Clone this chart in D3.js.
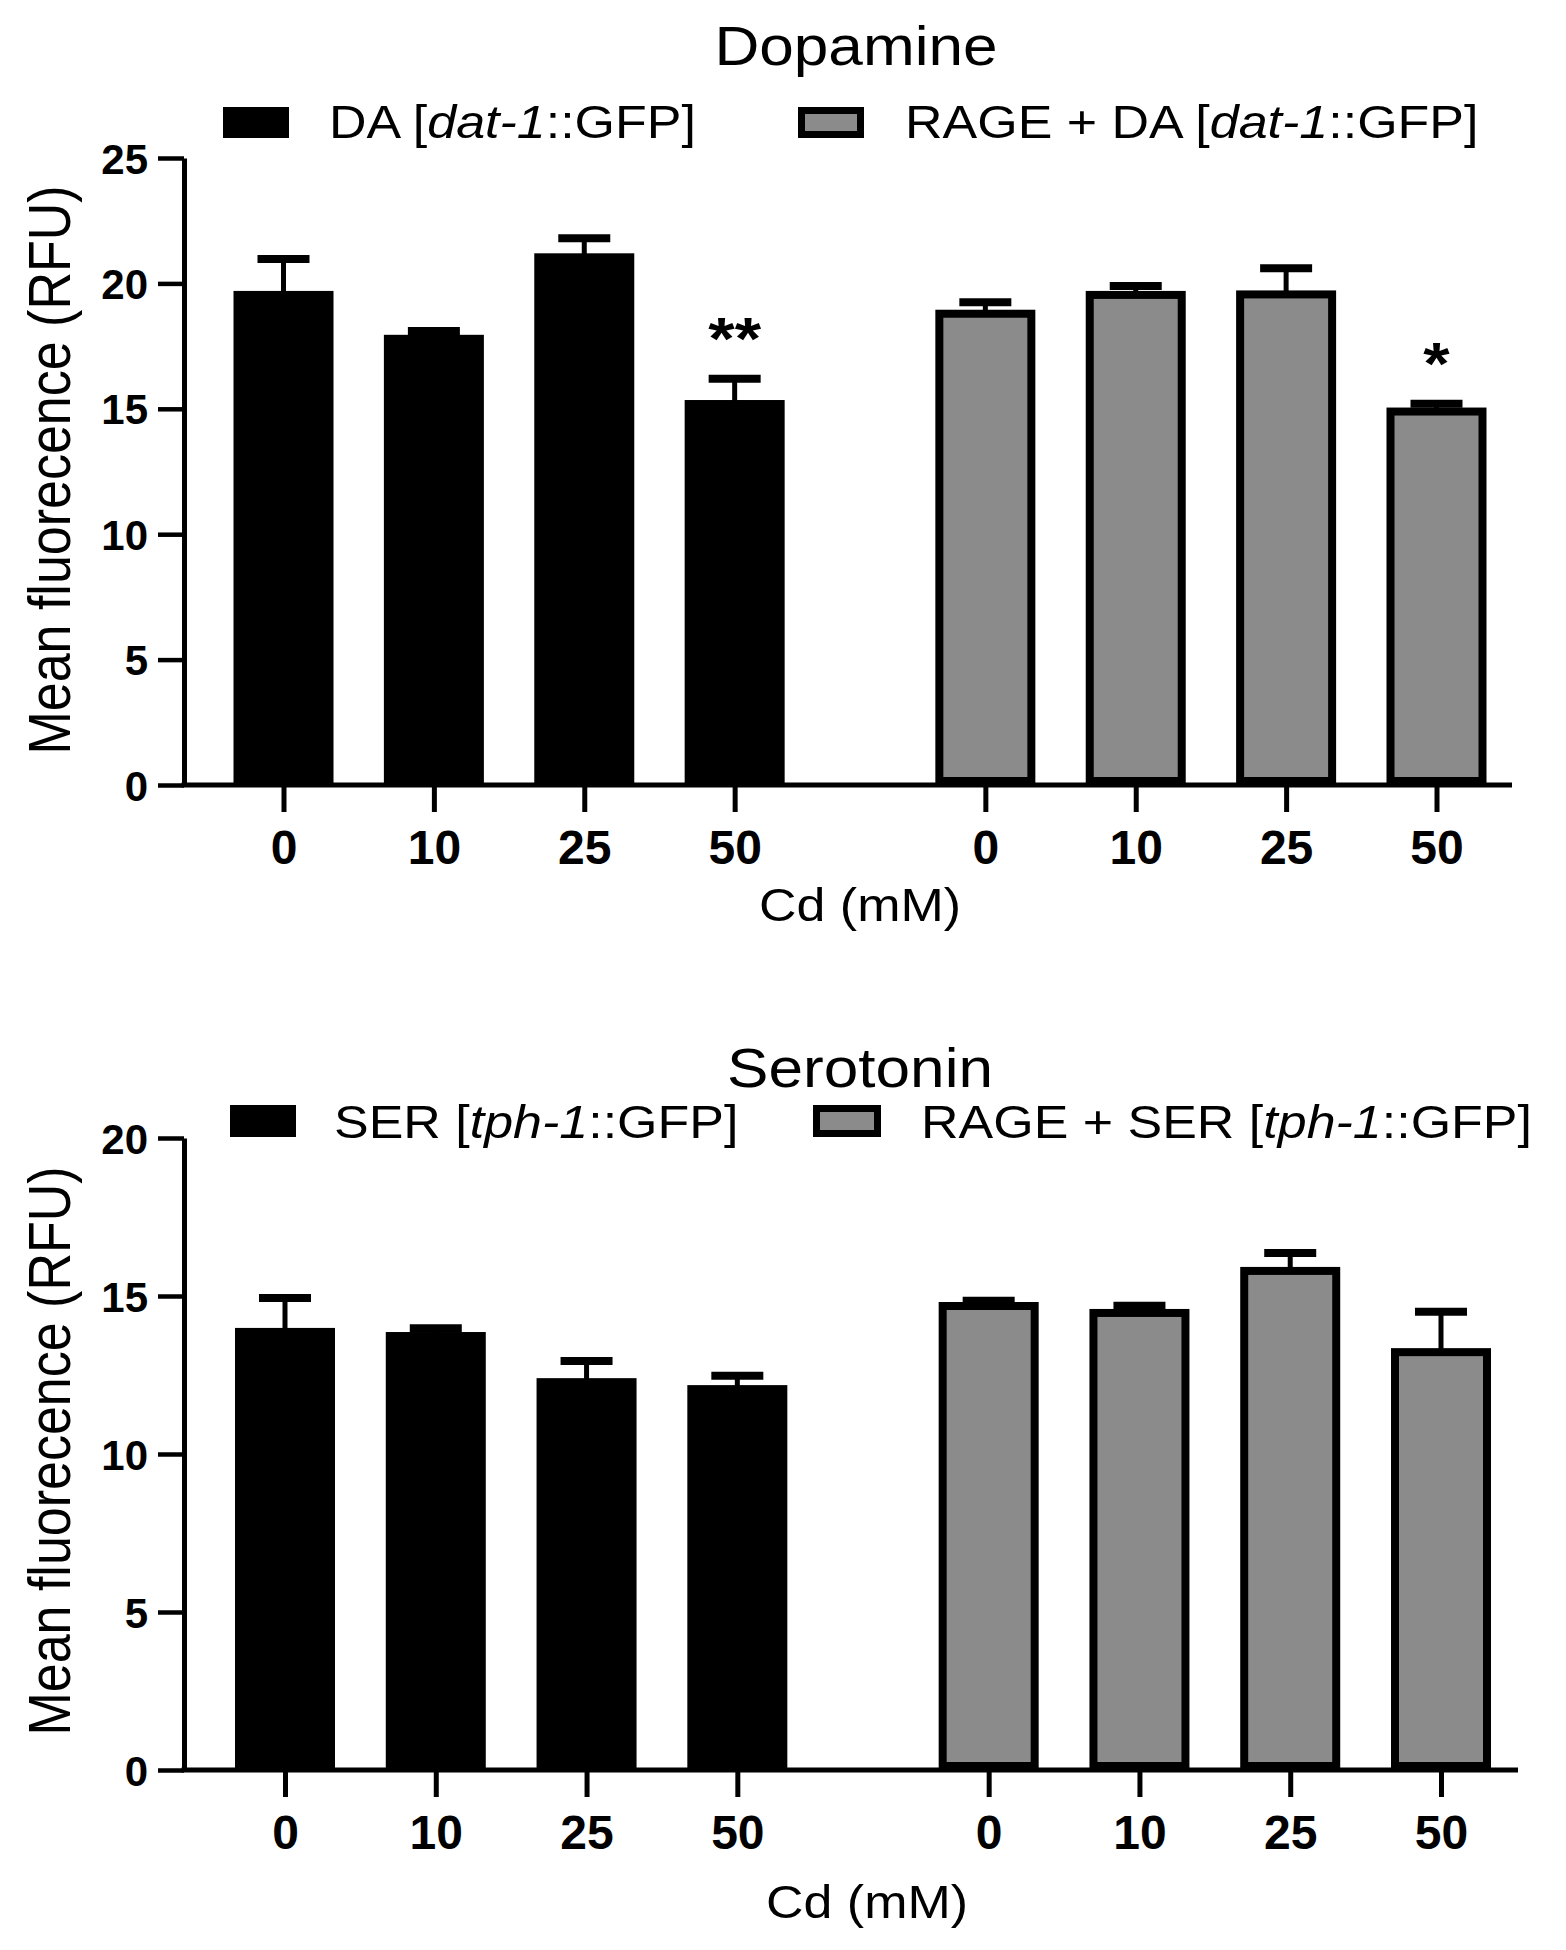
<!DOCTYPE html>
<html><head><meta charset="utf-8">
<script src="https://cdn.jsdelivr.net/npm/d3@7"></script>
<style>
body{margin:0;background:#fff}
svg{display:block}
text{font-family:"Liberation Sans",Arial,Helvetica,sans-serif;fill:#000}
</style>
</head><body>
<svg id="chart" width="1566" height="1950"></svg>
<script>
// ---------- data ----------
const doses = ["0", "10", "25", "50"];
const xAxisTitle = "Cd (mM)";
const yAxisTitle = "Mean fluorecence (RFU)";

const daTitle = "Dopamine";
const daMean = [19.7, 17.95, 21.2, 15.35];
const daSEM = [1.27, 0.15, 0.6, 0.85];
const rageDaMean = [18.95, 19.7, 19.72, 15.05];
const rageDaSEM = [0.3, 0.2, 0.88, 0.15];
const daStars = ["", "", "", "**"];
const rageDaStars = ["", "", "", "*"];
const daTicks = [0, 5, 10, 15, 20, 25];

const serTitle = "Serotonin";
const serMean = [13.99, 13.86, 12.4, 12.18];
const serSEM = [0.95, 0.12, 0.54, 0.3];
const rageSerMean = [14.81, 14.59, 15.92, 13.35];
const rageSerSEM = [0.04, 0.1, 0.44, 1.15];
const serStars = ["", "", "", ""];
const rageSerStars = ["", "", "", ""];
const serTicks = [0, 5, 10, 15, 20];

const legendDa = [
  [{t: "DA ["}, {t: "dat-1", i: true}, {t: "::GFP]"}],
  [{t: "RAGE + DA ["}, {t: "dat-1", i: true}, {t: "::GFP]"}]
];
const legendSer = [
  [{t: "SER ["}, {t: "tph-1", i: true}, {t: "::GFP]"}],
  [{t: "RAGE + SER ["}, {t: "tph-1", i: true}, {t: "::GFP]"}]
];

// ---------- layout ----------
const GRAY = "#8b8b8b";
const SX = 1.13;     // horizontal stretch of the original artwork text
const svg = d3.select("#chart");

const panels = [
  {title: daTitle, ticks: daTicks, ymax: 25, yTop: 158, yZero: 785, x0: 283.5, x1: 1436.5, axisEnd: 1512,
   series: [{mean: daMean, sem: daSEM, stars: daStars, fill: "#000", stroke: false},
            {mean: rageDaMean, sem: rageDaSEM, stars: rageDaStars, fill: GRAY, stroke: true}],
   legend: legendDa, titleX: 856, titleY: 65,
   leg: [{rx: 223, ry: 107, rw: 66, rh: 31, tx: 329, ty: 138}, {rx: 798, ry: 107, rw: 66, rh: 31, tx: 905, ty: 138}],
   ytitleY: 470, xTitleX: 860, xTitleY: 921},
  {title: serTitle, ticks: serTicks, ymax: 20, yTop: 1138, yZero: 1770, x0: 285, x1: 1441, axisEnd: 1518,
   series: [{mean: serMean, sem: serSEM, stars: serStars, fill: "#000", stroke: false},
            {mean: rageSerMean, sem: rageSerSEM, stars: rageSerStars, fill: GRAY, stroke: true}],
   legend: legendSer, titleX: 860, titleY: 1087,
   leg: [{rx: 230, ry: 1105, rw: 66, rh: 32, tx: 334, ty: 1138}, {rx: 813, ry: 1105, rw: 68, rh: 32, tx: 921, ty: 1138}],
   ytitleY: 1451, xTitleX: 867, xTitleY: 1918}
];

const AXIS_X = 184;
const GAP = 0.667;
const BW = 100;
const SW = 8;

function stretchedText(parent, str, x, y, size, anchor) {
  return parent.append("text")
    .attr("transform", `translate(${x},${y}) scale(${SX},1)`)
    .attr("text-anchor", anchor || "start")
    .style("font-size", size + "px")
    .text(str);
}

panels.forEach(p => {
  const g = svg.append("g");
  const y = d3.scaleLinear().domain([0, p.ymax]).range([p.yZero, p.yTop]);
  const slots = [0, 1, 2, 3, 4 + GAP, 5 + GAP, 6 + GAP, 7 + GAP];
  const x = d3.scaleLinear().domain([0, 7 + GAP]).range([p.x0, p.x1]);

  // title
  stretchedText(g, p.title, p.titleX, p.titleY, 55, "middle");

  // legend
  p.legend.forEach((parts, k) => {
    const L = p.leg[k];
    const s = p.series[k];
    if (s.stroke) {
      g.append("rect").attr("x", L.rx + 3.5).attr("y", L.ry + 3.5)
        .attr("width", L.rw - 7).attr("height", L.rh - 7)
        .attr("fill", s.fill).attr("stroke", "#000").attr("stroke-width", 7);
    } else {
      g.append("rect").attr("x", L.rx).attr("y", L.ry)
        .attr("width", L.rw).attr("height", L.rh).attr("fill", s.fill);
    }
    const t = g.append("text")
      .attr("transform", `translate(${L.tx},${L.ty}) scale(${SX},1)`)
      .style("font-size", "46px");
    parts.forEach(pt => {
      t.append("tspan").text(pt.t).style("font-style", pt.i ? "italic" : "normal");
    });
  });

  // bars
  p.series.forEach((s, si) => {
    const sl = slots.slice(si * 4, si * 4 + 4);
    const bars = g.append("g");
    s.mean.forEach((v, i) => {
      const cx = x(sl[i]);
      if (s.stroke) {
        bars.append("rect")
          .attr("x", cx - BW / 2 + SW / 2).attr("y", y(v) + SW / 2)
          .attr("width", BW - SW).attr("height", y(0) - y(v) - SW)
          .attr("fill", s.fill).attr("stroke", "#000").attr("stroke-width", SW);
      } else {
        bars.append("rect")
          .attr("x", cx - BW / 2).attr("y", y(v))
          .attr("width", BW).attr("height", y(0) - y(v))
          .attr("fill", s.fill);
      }
      // error bar (upper)
      const ye = y(v + s.sem[i]);
      bars.append("line").attr("x1", cx).attr("x2", cx)
        .attr("y1", y(v) + 2).attr("y2", ye)
        .attr("stroke", "#000").attr("stroke-width", 5);
      bars.append("line").attr("x1", cx - 26).attr("x2", cx + 26)
        .attr("y1", ye).attr("y2", ye)
        .attr("stroke", "#000").attr("stroke-width", 8);
      // significance stars
      if (s.stars[i]) {
        bars.append("text")
          .attr("x", cx).attr("y", ye - 20)
          .attr("text-anchor", "middle")
          .attr("transform", `translate(${cx},0) scale(${SX},1) translate(${-cx},0)`)
          .style("font-size", "60px").style("font-weight", "bold")
          .text(s.stars[i]);
      }
    });
  });

  // y axis
  const yAxis = d3.axisLeft(y).tickValues(p.ticks).tickSize(26).tickSizeOuter(0).tickPadding(10);
  const ya = g.append("g").attr("transform", `translate(${AXIS_X},0)`).call(yAxis);
  ya.select(".domain").attr("stroke", "#000").attr("stroke-width", 5);
  ya.selectAll(".tick line").attr("stroke", "#000").attr("stroke-width", 4.5);
  ya.selectAll(".tick text")
    .attr("x", -36).attr("dy", "0.36em")
    .style("font-size", "42px").style("font-weight", "bold")
    .style("font-family", "'Liberation Sans',Arial,sans-serif").attr("fill", "#000");

  // x axis
  g.append("line").attr("x1", AXIS_X - 2.5).attr("x2", p.axisEnd)
    .attr("y1", y(0)).attr("y2", y(0))
    .attr("stroke", "#000").attr("stroke-width", 5);
  const xAxis = d3.axisBottom(x).tickValues(slots)
    .tickFormat((d, k) => doses[k % 4]).tickSize(27).tickSizeOuter(0);
  const xa = g.append("g").attr("transform", `translate(0,${y(0)})`).call(xAxis);
  xa.select(".domain").remove();
  xa.selectAll(".tick line").attr("stroke", "#000").attr("stroke-width", 5);
  xa.selectAll(".tick text")
    .attr("y", 79).attr("dy", 0)
    .style("font-size", "48px").style("font-weight", "bold")
    .style("font-family", "'Liberation Sans',Arial,sans-serif").attr("fill", "#000");

  // axis titles
  stretchedText(g, xAxisTitle, p.xTitleX, p.xTitleY, 46, "middle");
  g.append("text")
    .attr("transform", `translate(70,${p.ytitleY}) rotate(-90) scale(1,${SX})`)
    .attr("text-anchor", "middle")
    .style("font-size", "52px")
    .text(yAxisTitle);
});
</script>
</body></html>
